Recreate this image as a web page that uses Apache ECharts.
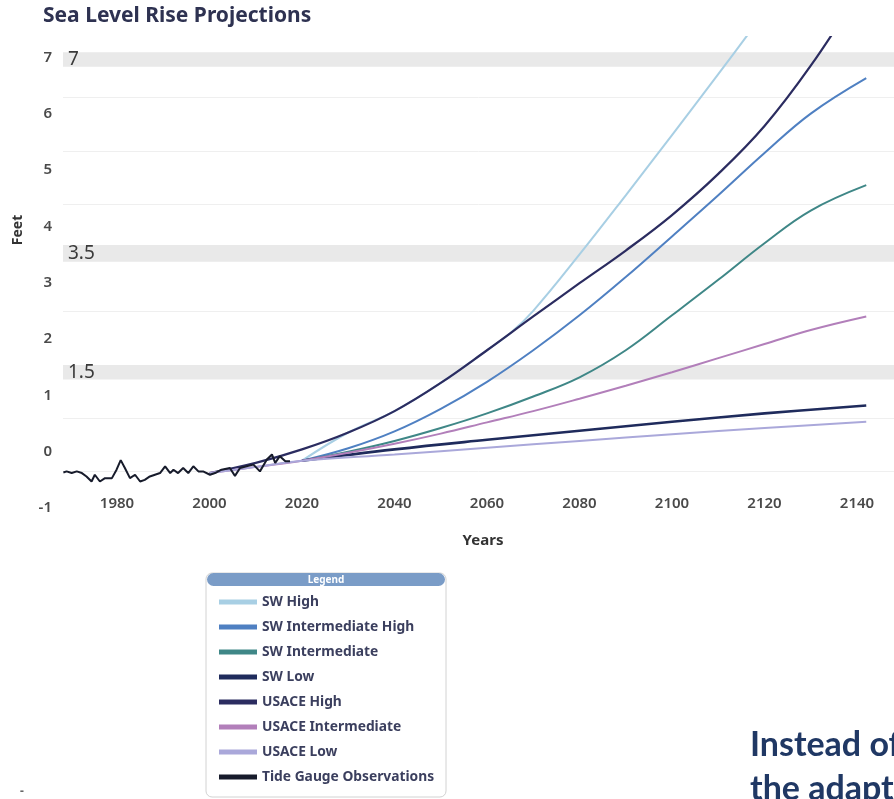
<!DOCTYPE html>
<html>
<head>
<meta charset="utf-8">
<script src="https://cdn.jsdelivr.net/npm/echarts@6/dist/echarts.min.js"></script>
<style>
  html, body { margin: 0; padding: 0; background: #ffffff; }
  #chart { width: 894px; height: 799px; }
</style>
</head>
<body>
<div id="chart"></div>
<script>
// ---------- data ----------
const titleText = 'Sea Level Rise Projections';
const xTicks = [1980, 2000, 2020, 2040, 2060, 2080, 2100, 2120, 2140];
const yTicks = [-1, 0, 1, 2, 3, 4, 5, 6, 7];

const bandLow = [6.83, 3.37, 1.28];
const bandHigh = [7.09, 3.67, 1.54];
const bandLabels = ['7', '3.5', '1.5'];
const faintGrid = [6.29, 5.34, 4.40, 2.50, 0.60, -0.35];

const seriesNames = ['SW High', 'SW Intermediate High', 'SW Intermediate', 'SW Low',
  'USACE High', 'USACE Intermediate', 'USACE Low', 'Tide Gauge Observations'];
const seriesColors = ['#a8cfe4', '#4f80c2', '#3f8787', '#1f2b5c',
  '#2b2c60', '#b27fba', '#aaa8da', '#171b2b'];

const swHigh = [[2020, -0.16], [2030, 0.34], [2040, 0.72], [2050, 1.22], [2060, 1.80], [2065, 2.10],
  [2070, 2.50], [2080, 3.50], [2090, 4.55], [2100, 5.62], [2110, 6.70], [2120, 7.80]];
const swIntHigh = [[2020, -0.16], [2030, 0.06], [2040, 0.36], [2050, 0.76], [2060, 1.24], [2070, 1.80],
  [2080, 2.42], [2090, 3.10], [2100, 3.82], [2110, 4.55], [2120, 5.30], [2130, 6.00], [2142, 6.63]];
const swInt = [[2020, -0.16], [2030, 0.00], [2040, 0.19], [2050, 0.42], [2060, 0.68], [2070, 0.98],
  [2080, 1.32], [2090, 1.80], [2100, 2.42], [2110, 3.05], [2120, 3.70], [2130, 4.28], [2142, 4.73]];
const swLow = [[2020, -0.16], [2040, 0.04], [2060, 0.21], [2080, 0.37], [2100, 0.53], [2120, 0.68], [2142, 0.82]];
const usaceHigh = [[2000, -0.38], [2010, -0.20], [2020, 0.04], [2030, 0.34], [2040, 0.72], [2050, 1.22],
  [2060, 1.80], [2070, 2.40], [2080, 2.99], [2090, 3.57], [2100, 4.20], [2110, 4.93], [2120, 5.78],
  [2130, 6.85], [2140, 8.10]];
const usaceInt = [[2000, -0.38], [2010, -0.27], [2020, -0.16], [2030, -0.02], [2040, 0.14], [2050, 0.32],
  [2060, 0.52], [2070, 0.72], [2080, 0.94], [2090, 1.17], [2100, 1.41], [2110, 1.66], [2120, 1.91],
  [2130, 2.16], [2142, 2.40]];
const usaceLow = [[2000, -0.38], [2010, -0.27], [2020, -0.16], [2040, -0.05], [2060, 0.07], [2080, 0.19],
  [2100, 0.31], [2120, 0.42], [2142, 0.53]];
const tideGauge = [[1968.4, -0.37], [1969.1, -0.35], [1970.2, -0.38], [1971.3, -0.35], [1972.4, -0.38],
  [1973.4, -0.44], [1974.5, -0.53], [1975.2, -0.41], [1976.3, -0.53], [1977.4, -0.47], [1978.9, -0.47],
  [1979.9, -0.32], [1980.8, -0.15], [1981.7, -0.29], [1982.8, -0.47], [1983.9, -0.41], [1985.0, -0.53],
  [1986.0, -0.50], [1987.1, -0.44], [1988.2, -0.41], [1989.3, -0.38], [1990.4, -0.26], [1991.5, -0.38],
  [1992.2, -0.32], [1993.2, -0.38], [1994.3, -0.29], [1995.4, -0.38], [1996.5, -0.26], [1997.6, -0.35],
  [1998.6, -0.35], [2000.1, -0.41], [2001.2, -0.38], [2002.6, -0.32], [2004.4, -0.29], [2005.5, -0.43],
  [2006.6, -0.29], [2008.0, -0.26], [2009.5, -0.23], [2010.9, -0.35], [2012.4, -0.14], [2013.5, -0.05],
  [2014.2, -0.20], [2015.2, -0.08], [2016.4, -0.17], [2017.4, -0.17]];

const seriesData = [swHigh, swIntHigh, swInt, swLow, usaceHigh, usaceInt, usaceLow, tideGauge];
const seriesWidths = [2, 2, 2, 2.6, 2.2, 2, 2, 2];
const sideText = ['Instead of', 'the adapt'];

// ---------- chart ----------
const chart = echarts.init(document.getElementById('chart'), null, { renderer: 'canvas' });
const uiFont = '"Noto Sans", Lato, sans-serif';

const lineSeries = seriesNames.map((name, i) => ({
  name: name,
  type: 'line',
  data: seriesData[i],
  color: seriesColors[i],
  showSymbol: false,
  symbol: 'none',
  smooth: i === 7 ? false : 0.4,
  lineStyle: { color: seriesColors[i], width: seriesWidths[i] },
  z: 3 + i,
  clip: true
}));

const helperSeries = {
  name: 'bands',
  type: 'line',
  data: [],
  symbol: 'none',
  z: 1,
  silent: true,
  markArea: {
    silent: true,
    z: 1,
    itemStyle: { color: '#e9e9e9' },
    label: {
      show: true, position: 'insideLeft', distance: 5,
      fontFamily: uiFont, fontSize: 19, color: '#3a3a3a'
    },
    data: bandLabels.map((lab, i) => [
      { name: lab, yAxis: bandLow[i] },
      { yAxis: bandHigh[i] }
    ])
  },
  markLine: {
    silent: true,
    z: 1,
    symbol: 'none',
    label: { show: false },
    lineStyle: { color: '#efefef', width: 1, type: 'solid' },
    data: faintGrid.map(v => ({ yAxis: v }))
  }
};

const option = {
  animation: false,
  backgroundColor: '#ffffff',
  title: {
    text: titleText,
    left: 38, top: 1,
    textStyle: { fontFamily: uiFont, fontSize: 21, fontWeight: 'bold', color: '#2e3251' }
  },
  grid: { left: 63, right: 0, top: 37, bottom: 799 - 508, containLabel: false },
  xAxis: {
    type: 'value',
    min: 1968.32, max: 2148,
    offset: -20,
    axisLine: { show: false },
    axisTick: { show: false },
    splitLine: { show: false },
    axisLabel: {
      customValues: xTicks,
      formatter: v => String(v),
      fontFamily: uiFont, fontSize: 15, fontWeight: 600, color: '#4a4a4a', margin: 8
    }
  },
  yAxis: {
    type: 'value',
    min: -1, max: 7.36,
    axisLine: { show: false },
    axisTick: { show: false },
    splitLine: { show: false },
    axisLabel: {
      customValues: yTicks,
      formatter: v => String(v),
      fontFamily: uiFont, fontSize: 15, fontWeight: 600, color: '#4a4a4a', margin: 11
    }
  },
  legend: {
    data: seriesNames,
    orient: 'vertical',
    left: 219, top: 595,
    padding: 0,
    icon: 'rect',
    itemWidth: 38, itemHeight: 5,
    itemGap: 11,
    textStyle: { fontFamily: uiFont, fontSize: 13.8, fontWeight: 'bold', color: '#3b3f5e', lineHeight: 14 },
    z: 20
  },
  graphic: [
    { type: 'rect', z: 10, shape: { x: 206, y: 573, width: 240, height: 224, r: 6 },
      style: { fill: '#ffffff', stroke: '#d2d2d2', lineWidth: 1 } },
    { type: 'rect', z: 11, shape: { x: 207, y: 573, width: 238, height: 13, r: 6.5 },
      style: { fill: '#7a9cc7' } },
    { type: 'text', z: 12, x: 326, y: 580,
      style: { text: 'Legend', fill: '#ffffff', font: 'bold 10px "Noto Sans", sans-serif', align: 'center', verticalAlign: 'middle' } },
    { type: 'text', x: 18, y: 230, rotation: Math.PI / 2,
      style: { text: 'Feet', fill: '#333333', font: 'bold 14px "Noto Sans", sans-serif', align: 'center', verticalAlign: 'middle' } },
    { type: 'text', x: 483, y: 541,
      style: { text: 'Years', fill: '#333333', font: 'bold 15px "Noto Sans", sans-serif', align: 'center', verticalAlign: 'middle' } },
    { type: 'text', x: 750, y: 745,
      style: { text: sideText[0], fill: '#203864', font: 'bold 34px Lato, sans-serif', align: 'left', verticalAlign: 'middle' } },
    { type: 'text', x: 750, y: 789,
      style: { text: sideText[1], fill: '#203864', font: 'bold 34px Lato, sans-serif', align: 'left', verticalAlign: 'middle' } },
    { type: 'text', x: 22, y: 792,
      style: { text: '-', fill: '#666666', font: 'bold 12px "Noto Sans", sans-serif', align: 'center', verticalAlign: 'middle' } }
  ],
  series: [helperSeries].concat(lineSeries)
};

chart.setOption(option);
</script>
</body>
</html>
